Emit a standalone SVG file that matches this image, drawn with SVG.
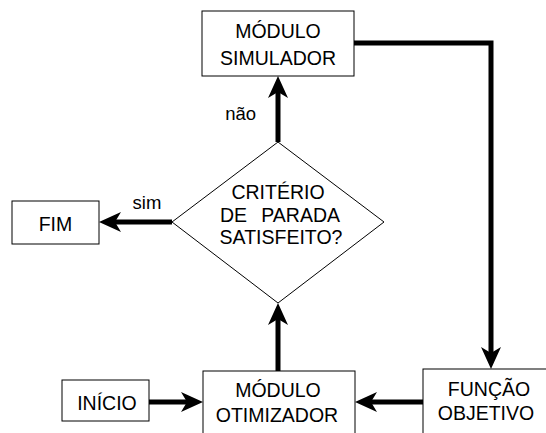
<svg xmlns="http://www.w3.org/2000/svg" width="546" height="433" viewBox="0 0 546 433">
<style>
.box{fill:#fff;stroke:#000;stroke-width:1}
.t{font-family:"Liberation Sans",Arial,sans-serif;font-size:19.5px;fill:#000;text-anchor:middle}
.ts{text-anchor:start}
.te{text-anchor:end}
.lbl{font-family:"Liberation Sans",Arial,sans-serif;font-size:18.5px;fill:#000}
.c{fill:none;stroke:#000;stroke-width:5;stroke-linejoin:miter}
</style>
<defs>
<marker id="ah" markerUnits="userSpaceOnUse" markerWidth="22" markerHeight="20" viewBox="0 0 22 20" refX="12" refY="10" orient="auto">
<path d="M0,0 L22,10 L0,20 L6,10 Z" fill="#000"/>
</marker>
</defs>
<rect width="546" height="433" fill="#fff"/>
<g id="connectors">
<path class="c" d="M354,43 H491 V359" marker-end="url(#ah)"/>
<path class="c" d="M278,142 V86" marker-end="url(#ah)"/>
<path class="c" d="M278,371 V313" marker-end="url(#ah)"/>
<path class="c" d="M172,222 H109" marker-end="url(#ah)"/>
<path class="c" d="M149,402 H193" marker-end="url(#ah)"/>
<path class="c" d="M423,402 H365" marker-end="url(#ah)"/>
<text class="lbl te" x="256" y="120">não</text>
<text class="lbl" x="147" y="209" text-anchor="middle" style="text-anchor:middle">sim</text>
</g>
<g id="simulador">
<rect class="box" x="202" y="11" width="152" height="65"/>
<text class="t" x="278" y="38">MÓDULO</text>
<text class="t" x="278" y="65">SIMULADOR</text>
</g>
<g id="criterio">
<polygon class="box" points="278,142 384,222 278,303 172,222"/>
<text class="t" x="278" y="199">CRITÉRIO</text>
<text class="t ts" x="220" y="222">DE</text>
<text class="t te" x="340" y="222">PARADA</text>
<text class="t" x="281" y="244">SATISFEITO?</text>
</g>
<g id="fim">
<rect class="box" x="12" y="201" width="87" height="43"/>
<text class="t" x="55.5" y="231">FIM</text>
</g>
<g id="inicio">
<rect class="box" x="62" y="380" width="87" height="41"/>
<text class="t" x="107" y="410">INÍCIO</text>
</g>
<g id="otimizador">
<rect class="box" x="203" y="371" width="152" height="80"/>
<text class="t" x="278" y="397">MÓDULO</text>
<text class="t" x="277" y="422">OTIMIZADOR</text>
</g>
<g id="funcao">
<rect class="box" x="423" y="369" width="130" height="80"/>
<text class="t" x="489" y="396">FUNÇÃO</text>
<text class="t" x="486" y="420">OBJETIVO</text>
</g>
</svg>
